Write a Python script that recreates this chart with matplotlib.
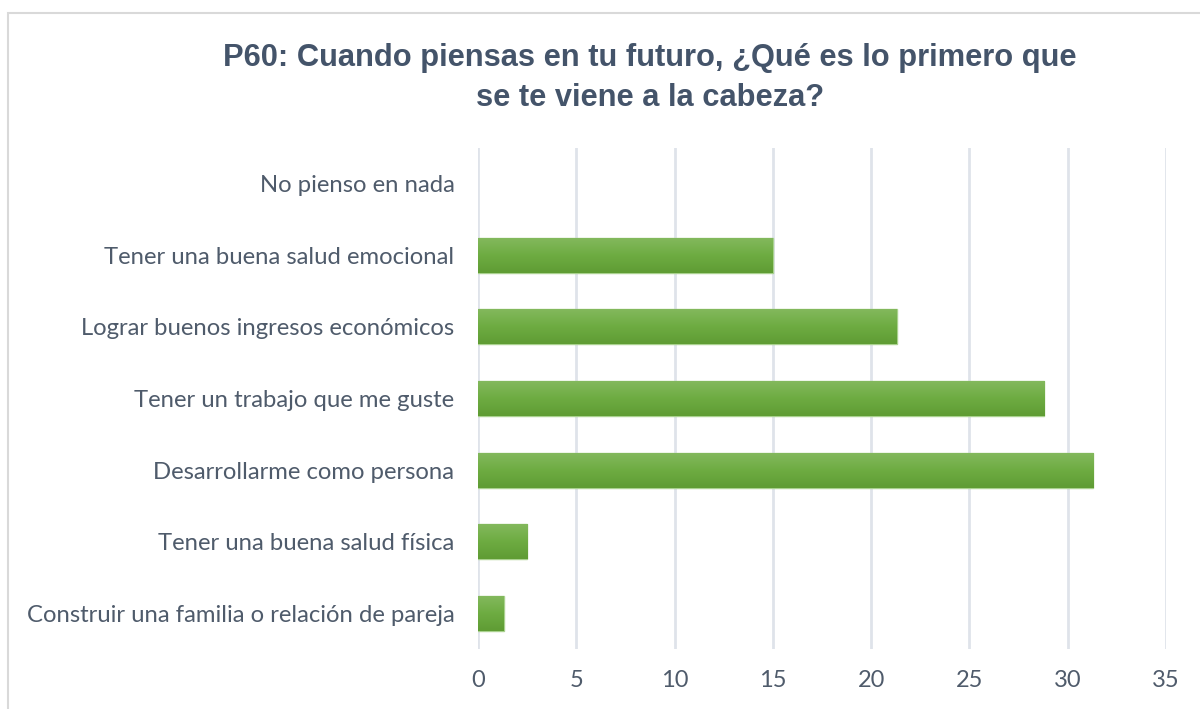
import numpy as np
import matplotlib.pyplot as plt
from matplotlib.patches import Rectangle
from matplotlib.colors import LinearSegmentedColormap

# data (percent), bottom to top
categories = [
    "Construir una familia o relación de pareja",
    "Tener una buena salud física",
    "Desarrollarme como persona",
    "Tener un trabajo que me guste",
    "Lograr buenos ingresos económicos",
    "Tener una buena salud emocional",
    "No pienso en nada",
]
values = [1.3, 2.5, 31.3, 28.8, 21.3, 15.0, 0.0]
xticks = [0, 5, 10, 15, 20, 25, 30, 35]

title = "P60: Cuando piensas en tu futuro, ¿Qué es lo primero que\nse te viene a la cabeza?"

fig = plt.figure(figsize=(12, 7.09), dpi=100)
fig.patch.set_facecolor("white")

# outer chart frame
fig.patches.append(Rectangle((8 / 1200, -0.05), 1.2, 1 - 13 / 709 + 0.05,
                             transform=fig.transFigure, fill=False,
                             edgecolor="#d9d9d9", linewidth=1.5))

ax = fig.add_axes([478 / 1200, 1 - 649 / 709, 688 / 1200, (649 - 148) / 709])

y = np.arange(len(categories))
bars = ax.barh(y, values, height=0.49, color="#70ad47",
               edgecolor="#a9d18e", linewidth=1.0, zorder=3)

# vertical gradient inside each bar, lighter at top
grad = np.linspace(0, 1, 64).reshape(-1, 1)
cmap = LinearSegmentedColormap.from_list("g", ["#5f9c34", "#6eac42", "#84b95e"])
for b in bars:
    if b.get_width() <= 0:
        b.set_linewidth(0)
        continue
    x0, y0 = b.get_x(), b.get_y()
    w, h = b.get_width(), b.get_height()
    im = ax.imshow(grad, cmap=cmap, aspect="auto", origin="lower",
                   extent=(x0, x0 + w, y0, y0 + h), zorder=3.5)
    im.set_clip_path(b)

ax.set_xlim(0, 35)
ax.set_ylim(-0.5, len(categories) - 0.5)
ax.set_xticks(xticks)
ax.set_yticks(y)
ax.set_yticklabels(categories)

ax.grid(axis="x", color="#dfe3ea", linewidth=2.0, zorder=0)
ax.set_axisbelow(True)
for s in ax.spines.values():
    s.set_visible(False)
ax.tick_params(axis="both", length=0)
ax.tick_params(axis="x", pad=15, labelsize=17, labelcolor="#4f5b6b")
ax.tick_params(axis="y", pad=17, labelsize=17.2, labelcolor="#4f5b6b")
for lab in ax.get_xticklabels() + ax.get_yticklabels():
    lab.set_family(["Lato", "DejaVu Sans"])

fig.text(650 / 1200, 1 - 78 / 709, title, ha="center", va="center",
         fontsize=22.2, fontweight="bold", color="#44546a",
         family=["Liberation Sans", "DejaVu Sans"], linespacing=1.45)

fig.savefig("out.png", dpi=100)
